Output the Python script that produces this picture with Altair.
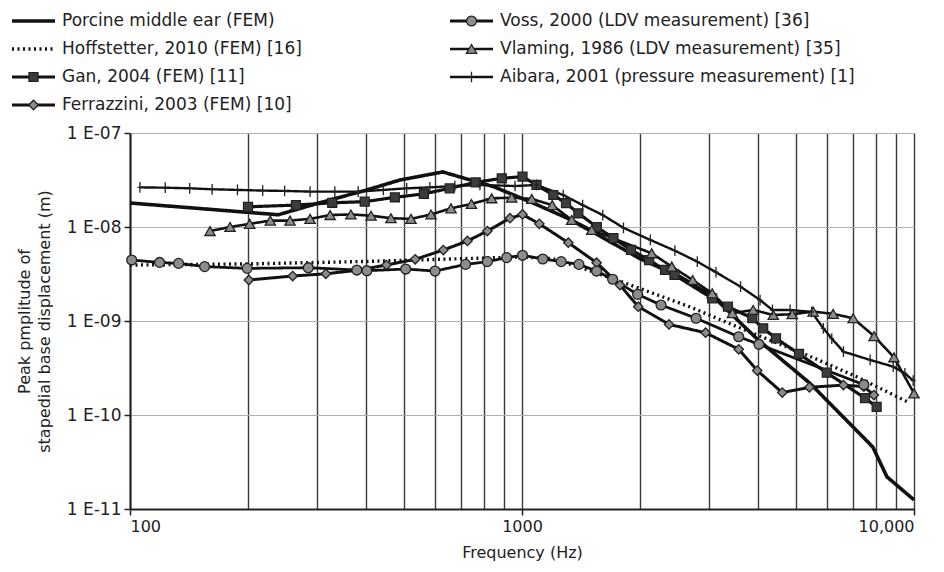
import altair as alt
import pandas as pd

FONT = "DejaVu Sans"

S_POR = "Porcine middle ear (FEM)"
S_HOF = "Hoffstetter, 2010 (FEM) [16]"
S_GAN = "Gan, 2004 (FEM) [11]"
S_FER = "Ferrazzini, 2003 (FEM) [10]"
S_VOS = "Voss, 2000 (LDV measurement) [36]"
S_VLA = "Vlaming, 1986 (LDV measurement) [35]"
S_AIB = "Aibara, 2001 (pressure measurement) [1]"

porcine_freq = [100, 239, 299, 402, 488, 628, 845, 1048, 1300, 1600, 2000, 2530, 3076, 4000, 5430, 7850, 8530, 10000]
porcine_amp = [1.8e-8, 1.35e-8, 1.77e-8, 2.48e-8, 3.16e-8, 3.85e-8, 2.69e-8, 1.86e-8, 1.25e-8, 7.8e-9, 4.6e-9,
               2.96e-9, 1.82e-9, 6.3e-10, 2.17e-10, 4.57e-11, 2.2e-11, 1.25e-11]

hoff_freq = [100, 200, 400, 700, 1000, 1200, 1500, 1888, 2685, 3880, 5330, 7160, 9660]
hoff_amp = [3.94e-9, 4.05e-9, 4.3e-9, 4.6e-9, 4.8e-9, 4.6e-9, 3.4e-9, 2.42e-9, 1.41e-9, 7.4e-10, 4.35e-10, 2.54e-10, 1.37e-10]

gan_freq = [200, 265, 328, 397, 474, 562, 654, 762, 888, 1003, 1089, 1202, 1295, 1392, 1552, 1711, 1897, 2110,
            2317, 2449, 3057, 3352, 3868, 4123, 4446, 5090, 5990, 7500, 8030]
gan_amp = [1.64e-8, 1.71e-8, 1.81e-8, 1.86e-8, 2.07e-8, 2.25e-8, 2.58e-8, 2.98e-8, 3.3e-8, 3.43e-8, 2.8e-8, 2.19e-8,
           1.79e-8, 1.4e-8, 1.0e-8, 7.6e-9, 5.7e-9, 4.45e-9, 3.49e-9, 3.09e-9, 1.74e-9, 1.42e-9, 1.07e-9, 8.36e-10,
           6.54e-10, 4.46e-10, 2.82e-10, 1.51e-10, 1.22e-10]

ferr_freq = [201, 260, 316, 379, 451, 534, 630, 726, 816, 932, 1003, 1107, 1313, 1550, 1778, 1980, 2372, 2940,
             3572, 3981, 4613, 5410, 6607, 7450, 7900]
ferr_amp = [2.73e-9, 3.01e-9, 3.18e-9, 3.46e-9, 3.94e-9, 4.53e-9, 5.69e-9, 7.1e-9, 9.06e-9, 1.24e-8, 1.36e-8, 1.08e-8,
            6.8e-9, 4.17e-9, 2.41e-9, 1.42e-9, 9.2e-10, 7.5e-10, 5.0e-10, 2.97e-10, 1.73e-10, 1.97e-10, 2.08e-10,
            2.0e-10, 1.63e-10]

voss_freq = [101, 119, 133, 155, 199, 285, 379, 402, 505, 600, 718, 816, 914, 1003, 1130, 1259, 1397, 1550, 1703,
             1972, 2263, 2780, 3571, 4022, 7450]
voss_amp = [4.45e-9, 4.2e-9, 4.1e-9, 3.79e-9, 3.63e-9, 3.69e-9, 3.49e-9, 3.43e-9, 3.57e-9, 3.4e-9, 4.0e-9, 4.28e-9,
            4.72e-9, 5.0e-9, 4.57e-9, 4.28e-9, 4.0e-9, 3.4e-9, 2.78e-9, 1.92e-9, 1.48e-9, 1.07e-9, 6.8e-10, 5.65e-10,
            2.1e-10]

vlam_freq = [160, 180, 202, 228, 256, 288, 324, 366, 412, 463, 521, 586, 659, 743, 837, 941, 1059, 1194, 1339, 1506,
             2142, 2410, 2725, 3057, 3442, 3888, 4375, 4890, 5530, 6220, 6995, 7910, 8890, 10000]
vlam_amp = [9.06e-9, 1.0e-8, 1.08e-8, 1.17e-8, 1.17e-8, 1.22e-8, 1.34e-8, 1.36e-8, 1.32e-8, 1.24e-8, 1.22e-8, 1.36e-8,
            1.58e-8, 1.76e-8, 2.02e-8, 2.05e-8, 1.99e-8, 1.71e-8, 1.19e-8, 9.3e-9, 5.25e-9, 3.79e-9, 2.73e-9, 1.97e-9,
            1.21e-9, 1.31e-9, 1.16e-9, 1.18e-9, 1.26e-9, 1.19e-9, 1.07e-9, 6.9e-10, 4.11e-10, 1.7e-10]

aib_freq = [106, 123, 142, 162, 188, 218, 248, 288, 333, 382, 443, 508, 582, 674, 781, 960, 1089, 1274, 1428, 1607,
            1815, 2125, 2455, 2800, 3125, 3610, 4049, 4355, 4830, 5480, 5870, 6170, 6607, 7730, 8850, 9480, 9950]
aib_amp = [2.64e-8, 2.62e-8, 2.58e-8, 2.52e-8, 2.48e-8, 2.44e-8, 2.42e-8, 2.38e-8, 2.38e-8, 2.38e-8, 2.48e-8, 2.58e-8,
           2.64e-8, 2.73e-8, 2.8e-8, 2.73e-8, 2.8e-8, 2.19e-8, 1.71e-8, 1.34e-8, 9.8e-9, 7.28e-9, 5.6e-9, 4.28e-9,
           3.3e-9, 2.32e-9, 1.67e-9, 1.31e-9, 1.31e-9, 1.25e-9, 8.36e-10, 6.5e-10, 4.72e-10, 3.85e-10, 3.27e-10,
           2.77e-10, 2.32e-10]

x_label_values = [100, 1000, 10000]
x_grid_values = [200, 300, 400, 500, 600, 700, 800, 900, 1000, 2000, 3000, 4000, 5000, 6000, 7000, 8000, 9000, 10000]
y_values = [1e-11, 1e-10, 1e-9, 1e-8, 1e-7]

# legend layout: two columns (column-major), as in the reference
legend_series = [S_POR, S_HOF, S_GAN, S_FER, S_VOS, S_VLA, S_AIB]
legend_col = [0, 0, 0, 0, 1, 1, 1]
legend_row = [0, 1, 2, 3, 0, 1, 2]

series_data = [
    (S_POR, porcine_freq, porcine_amp),
    (S_HOF, hoff_freq, hoff_amp),
    (S_GAN, gan_freq, gan_amp),
    (S_FER, ferr_freq, ferr_amp),
    (S_VOS, voss_freq, voss_amp),
    (S_VLA, vlam_freq, vlam_amp),
    (S_AIB, aib_freq, aib_amp),
]
rows = []
for name, fs, vs in series_data:
    for f, v in zip(fs, vs):
        rows.append({"series": name, "freq": f, "amp": v})
df = pd.DataFrame(rows)

line_domain = [S_POR, S_HOF, S_GAN, S_FER, S_VOS, S_VLA, S_AIB]
marker_domain = [S_GAN, S_FER, S_VOS, S_VLA, S_AIB]
df_pts = df[df["series"].isin(marker_domain)]

leg_df = pd.DataFrame({"series": legend_series, "col": legend_col, "row": legend_row})
leg_pts_df = leg_df[leg_df["series"].isin(marker_domain)]

lw_map = {S_POR: 3.6, S_HOF: 2.4, S_GAN: 1.6, S_FER: 1.6, S_VOS: 1.6, S_VLA: 1.6, S_AIB: 1.6}
dash_map = {S_POR: [1, 0], S_HOF: [2, 3.5], S_GAN: [1, 0], S_FER: [1, 0], S_VOS: [1, 0], S_VLA: [1, 0], S_AIB: [1, 0]}

marker_shapes = ["square", "diamond", "circle", "triangle-up", "M0,-1V1M-0.45,0H0.45"]
marker_fills = ["#3c3c3c", "#8c8c8c", "#8c8c8c", "#8c8c8c", "#111111"]
marker_sizes = [80, 115, 80, 115, 130]

xscale = alt.Scale(type="log", domain=[100, 10000], nice=False)
yscale = alt.Scale(type="log", domain=[1e-11, 1e-7], nice=False)

sw_enc = alt.StrokeWidth("series:N", scale=alt.Scale(domain=line_domain, range=[lw_map[s] for s in line_domain]),
                         legend=None)
sd_enc = alt.StrokeDash("series:N", scale=alt.Scale(domain=line_domain, range=[dash_map[s] for s in line_domain]),
                        legend=None)
shape_enc = alt.Shape("series:N", scale=alt.Scale(domain=marker_domain, range=marker_shapes), legend=None)
fill_enc = alt.Fill("series:N", scale=alt.Scale(domain=marker_domain, range=marker_fills), legend=None)
size_enc = alt.Size("series:N", scale=alt.Scale(domain=marker_domain, range=marker_sizes), legend=None)

lines = alt.Chart(df).mark_line(color="#111111").encode(
    x=alt.X("freq:Q", scale=xscale, axis=alt.Axis(
        orient="bottom", values=x_label_values, grid=False, tickSize=6, tickColor="#222222", tickWidth=1.5,
        domainColor="#222222", domainWidth=2.2, labelFont=FONT, labelFontSize=16, labelColor="#222222",
        labelPadding=3, labelExpr="datum.value == 10000 ? '10,000' : format(datum.value, 'd')",
        title="Frequency (Hz)", titleFont=FONT, titleFontSize=16, titleFontWeight="normal",
        titleColor="#222222", titlePadding=10)),
    y=alt.Y("amp:Q", scale=yscale, axis=alt.Axis(
        values=y_values, grid=True, gridColor="#b0b0b0", gridWidth=1.2, tickSize=6, tickColor="#222222",
        tickWidth=1.5, domainColor="#222222", domainWidth=2.2, labelFont=FONT, labelFontSize=17,
        labelColor="#222222", labelPadding=3,
        labelExpr="'1 E-' + format(round(-log(datum.value) / LN10), '02d')",
        title=["Peak pmplitude of", "stapedial base displacement (m)"], titleFont=FONT, titleFontSize=16,
        titleFontWeight="normal", titleColor="#222222", titlePadding=14, titleLineHeight=20)),
    detail="series:N",
    strokeWidth=sw_enc,
    strokeDash=sd_enc,
)

points = alt.Chart(df_pts).mark_point(filled=True, stroke="#222222", strokeWidth=1.3, opacity=1).encode(
    x=alt.X("freq:Q", scale=xscale, axis=alt.Axis(
        orient="top", values=x_grid_values, grid=True, gridColor="#3a3a3a", gridWidth=1.4, labels=False,
        ticks=False, domain=False, title=None)),
    y=alt.Y("amp:Q", scale=yscale, axis=None),
    shape=shape_enc, fill=fill_enc, size=size_enc,
)

# legend built from the legend table on its own small point scales
leg_x = alt.X("col:O", scale=alt.Scale(type="point", domain=[0, 1], range=[-118, 320], padding=0), axis=None)
leg_y = alt.Y("row:O", scale=alt.Scale(type="point", domain=[0, 1, 2, 3], range=[-112, -28], padding=0),
              axis=None)

leg_lines = alt.Chart(leg_df).mark_rule(color="#111111", x2Offset=43).encode(
    x=leg_x, x2=alt.X2("col:O"), y=leg_y, strokeWidth=sw_enc, strokeDash=sd_enc,
)
leg_marks = alt.Chart(leg_pts_df).mark_point(filled=True, stroke="#222222", strokeWidth=1.3, opacity=1,
                                             xOffset=21.5).encode(
    x=leg_x, y=leg_y, shape=shape_enc, fill=fill_enc, size=size_enc,
)
leg_text = alt.Chart(leg_df).mark_text(align="left", baseline="middle", dx=50, font=FONT, fontSize=17,
                                       color="#222222").encode(
    x=leg_x, y=leg_y, text="series:N",
)

chart = alt.layer(lines, points, leg_lines, leg_marks, leg_text).resolve_scale(
    x="independent", y="independent"
).resolve_axis(x="independent", y="independent").properties(
    width=784, height=376, autosize=alt.AutoSizeParams(type="none"),
    padding={"left": 122, "top": 125, "right": 20, "bottom": 55},
).configure_view(stroke=None).configure(background="white")

chart.save("out.html", embed_options={"renderer": "svg", "actions": False})
